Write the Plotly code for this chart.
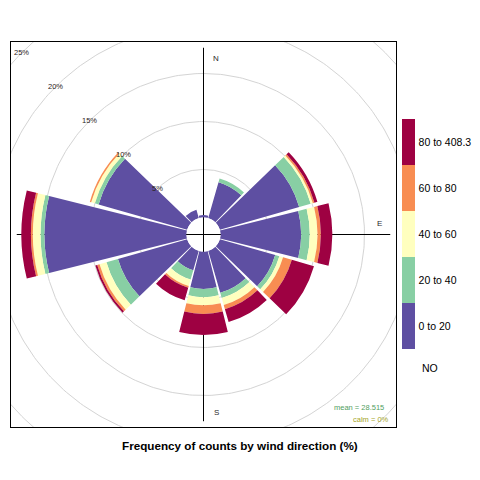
import numpy as np
import plotly.graph_objects as go

# wind directions (degrees, clockwise from north)
directions = [0, 30, 60, 90, 120, 150, 180, 210, 240, 270, 300, 330]

# frequency (%) of counts in each speed bin, per direction
freq_0_20 = [0.25, 3.9, 8.6, 8.4, 6.0, 4.55, 3.9, 2.1, 7.5, 14.8, 9.6, 0.9]
freq_20_40 = [0, 0.4, 1.25, 0.9, 0.45, 0.57, 0.85, 1.0, 1.25, 0.4, 0.4, 0]
freq_40_60 = [0, 0, 0.23, 0.8, 0.4, 0.75, 0.85, 0.7, 0.75, 0.8, 0.4, 0]
freq_60_80 = [0, 0, 0.17, 0.35, 0.95, 0.45, 0.9, 0.2, 0.25, 0.2, 0.15, 0]
freq_80_max = [0, 0, 0.32, 1.2, 2.4, 1.4, 2.2, 1.35, 0.2, 1.0, 0, 0]

bin_labels = ["0 to 20", "20 to 40", "40 to 60", "60 to 80", "80 to 408.3"]
bin_colors = ["#5E4FA2", "#88CFA4", "#FFFFBF", "#F88D52", "#9E0142"]

ring_levels = [5, 10, 15, 20, 25]
ring_labels = ["5%", "10%", "15%", "20%", "25%"]

mean_value = 28.515
calm_pct = 0

title = "Frequency of counts by wind direction (%)"

# geometry (units are % of counts)
OFFSET = 1.77      # size of the centre hole
EXTENT = 20.05     # half width of the panel
AXIS_LEN = 19.45   # length of the N-S / E-W lines
W, H = 480, 480
SHIFT = 8          # page body margin the figure is drawn at


def px(x):
    return (x - SHIFT) / W


def py(y):
    return 1 - (y - SHIFT) / H


dom_x = [px(11), px(396)]
dom_y = [py(427), py(42)]
FONT = "Liberation Sans, Arial, sans-serif"

fig = go.Figure()

# grid circles
theta = np.linspace(0, 2 * np.pi, 361)
for lvl in ring_levels:
    rr = OFFSET + lvl
    fig.add_trace(go.Scatter(x=rr * np.sin(theta), y=rr * np.cos(theta), mode="lines",
                             line=dict(color="#d4d4d4", width=1), hoverinfo="skip"))

# compass cross
fig.add_trace(go.Scatter(x=[0, 0], y=[-AXIS_LEN, AXIS_LEN], mode="lines",
                         line=dict(color="black", width=1), hoverinfo="skip"))
fig.add_trace(go.Scatter(x=[-AXIS_LEN, AXIS_LEN], y=[0, 0], mode="lines",
                         line=dict(color="black", width=1), hoverinfo="skip"))

# dummy trace only for the colour key
n = len(bin_colors)
cscale = []
for i, c in enumerate(bin_colors):
    cscale += [[i / n, c], [(i + 1) / n, c]]
fig.add_trace(go.Scatter(
    x=[0] * n, y=[0] * n, mode="markers", hoverinfo="skip",
    marker=dict(size=1, opacity=0, color=list(range(n)), colorscale=cscale,
                cmin=0, cmax=n, showscale=True,
                colorbar=dict(x=px(401.7), xanchor="left", y=py(234.2), yanchor="middle",
                              thickness=13.3, len=230.3, lenmode="pixels",
                              outlinewidth=0, ticks="outside", ticklen=2,
                              tickcolor="rgba(0,0,0,0)",
                              tickvals=[i + 0.5 for i in range(n)], ticktext=bin_labels,
                              tickfont=dict(size=10.5, color="black", family=FONT),
                              xpad=0, ypad=0)),
))

# the rose itself
stack = [freq_0_20, freq_20_40, freq_40_60, freq_60_80, freq_80_max]
for vals, lab, col in zip(stack, bin_labels, bin_colors):
    fig.add_trace(go.Barpolar(r=vals, theta=directions, width=28, name=lab,
                              marker=dict(color=col, line=dict(width=0))))

ann = []
for lvl, lab in zip(ring_levels, ring_labels):
    d = (OFFSET + lvl) * np.sqrt(0.5)
    ann.append(dict(x=-d, y=d, xref="x", yref="y", text=lab, showarrow=False,
                    xanchor="center", yanchor="middle",
                    font=dict(size=7.5, color="#2b2220")))
for txt, cx, cy in [("N", 1.32, 18.3), ("E", 18.33, 1.17), ("S", 1.32, -18.56)]:
    ann.append(dict(x=cx, y=cy, xref="x", yref="y", text=txt, showarrow=False,
                    xanchor="center", yanchor="middle",
                    font=dict(size=8, color="#2b2b2b")))
ann.append(dict(x=px(386), y=py(407), xref="paper", yref="paper", xanchor="right",
                yanchor="middle", text=f"mean = {mean_value}", showarrow=False,
                font=dict(size=7.5, color="#52a060")))
ann.append(dict(x=px(391), y=py(419), xref="paper", yref="paper", xanchor="right",
                yanchor="middle", text=f"calm = {calm_pct}%", showarrow=False,
                font=dict(size=7.5, color="#a5a52a")))
ann.append(dict(x=px(420), y=py(368), xref="paper", yref="paper", xanchor="left",
                yanchor="middle", text="NO", showarrow=False,
                font=dict(size=10.5, color="black")))
ann.append(dict(x=px(240), y=py(445), xref="paper", yref="paper", xanchor="center",
                yanchor="middle", text=f"<b>{title}</b>", showarrow=False,
                font=dict(size=11.7, color="black")))

fig.update_layout(
    width=W, height=H, margin=dict(l=0, r=0, t=0, b=0, autoexpand=False),
    paper_bgcolor="white", plot_bgcolor="white", showlegend=False,
    font=dict(family=FONT),
    xaxis=dict(domain=dom_x, range=[-EXTENT, EXTENT], showgrid=False, zeroline=False,
               showticklabels=False, ticks="", showline=True, mirror=True,
               linecolor="black", linewidth=1, fixedrange=True),
    yaxis=dict(domain=dom_y, range=[-EXTENT, EXTENT], showgrid=False, zeroline=False,
               showticklabels=False, ticks="", showline=True, mirror=True,
               linecolor="black", linewidth=1, fixedrange=True),
    polar=dict(domain=dict(x=dom_x, y=dom_y), hole=OFFSET / EXTENT,
               bgcolor="rgba(0,0,0,0)", barmode="stack",
               radialaxis=dict(visible=False, range=[0, EXTENT - OFFSET]),
               angularaxis=dict(visible=False, rotation=90, direction="clockwise")),
    annotations=ann,
)

fig.write_html("out.html")
